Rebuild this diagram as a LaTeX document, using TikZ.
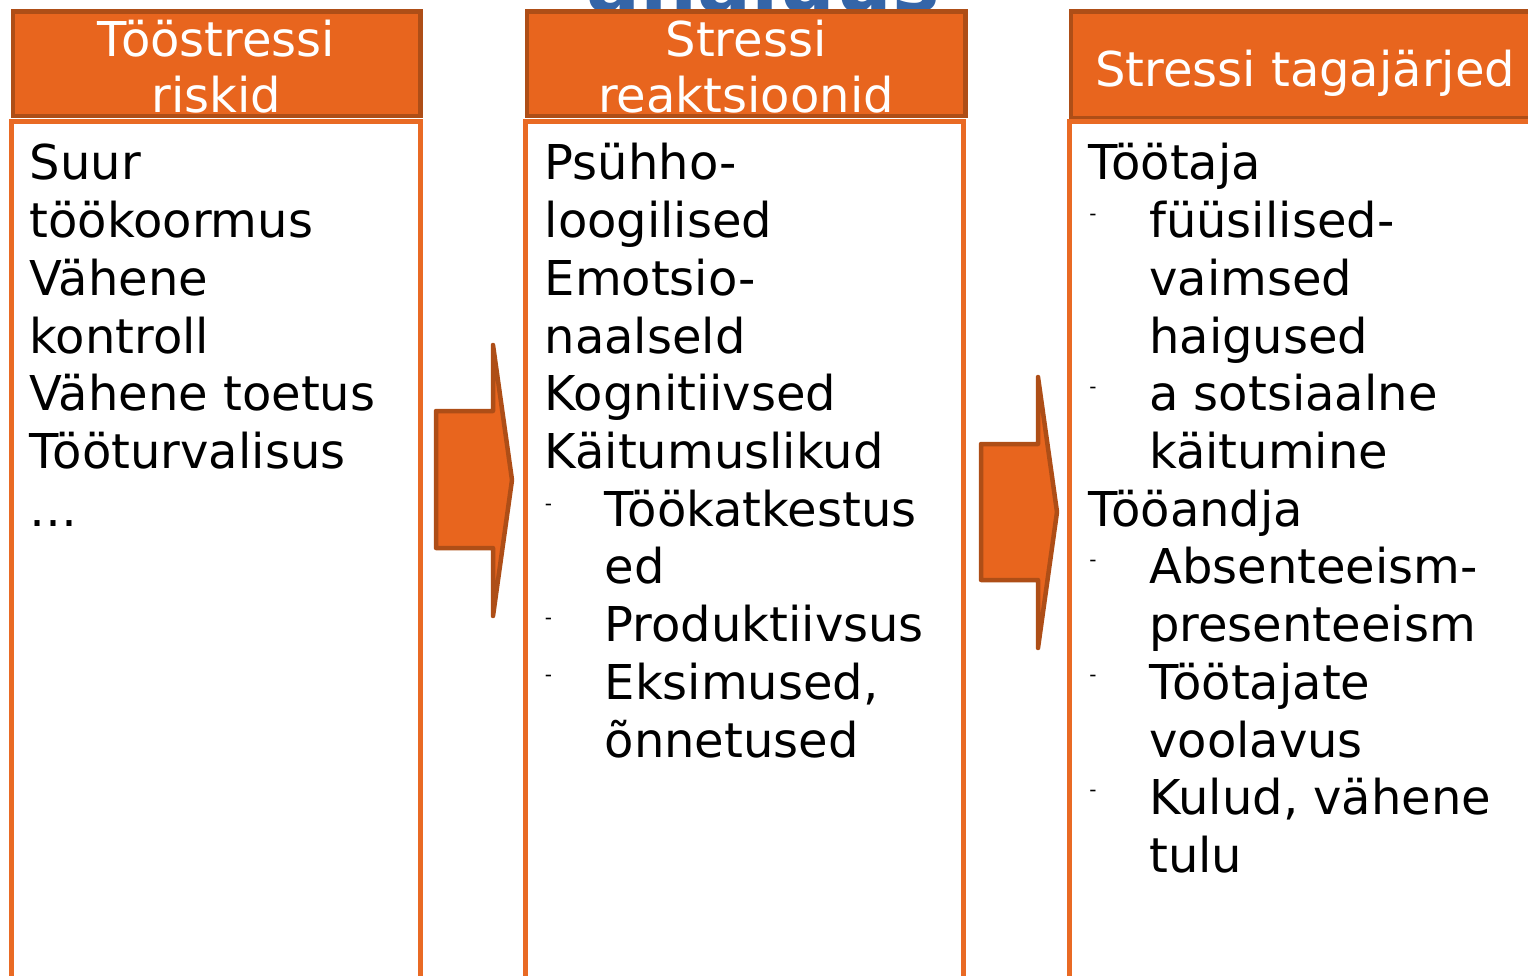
\documentclass[tikz,border=0pt]{standalone}
\usepackage{fontspec}
\setmainfont{DejaVu Sans}
\definecolor{hfill}{HTML}{E8651E}
\definecolor{hdraw}{HTML}{AE4E17}
\definecolor{bdraw}{HTML}{E96A24}
\definecolor{tblue}{HTML}{3465A8}
\tikzset{
  hbox/.style={draw=hdraw, fill=hfill, line width=4.5pt},
  bbox/.style={draw=bdraw, line width=4.5pt},
  htxt/.style={text=white, font=\fontsize{48}{56}\selectfont, inner sep=0pt, anchor=base},
  btxt/.style={font=\fontsize{48}{58}\selectfont, inner sep=0pt, anchor=base west},
  dashtxt/.style={font=\fontsize{20}{24}\selectfont, inner sep=0pt},
  barrow/.style={draw=hdraw, fill=hfill, line width=4.5pt, line join=round},
}
\begin{document}
\begin{tikzpicture}[x=1pt,y=-1pt]
\useasboundingbox (0,0) rectangle (1528,976);
% partly hidden title behind the headers
\begin{scope}
\clip (0,0) rectangle (1528,10);
\node[font=\fontsize{80}{90}\selectfont\bfseries, text=tblue, anchor=base west, inner sep=0pt] (title) at (586,12) {analüüs};
\end{scope}
% headers
\draw[hbox] (13,11.5) rectangle (420.5,116);
\draw[hbox] (527,11.5) rectangle (965.5,116);
\draw[hbox] (1071,11.5) rectangle (1560,118);
% bodies
\draw[bbox] (11.5,121.5) rectangle (420.5,1010);
\draw[bbox] (525.3,121.5) rectangle (963.5,1010);
\draw[bbox] (1069.5,121.5) rectangle (1560,1010);
% header texts
\node[htxt] (h1a) at (216.5,57) {Tööstressi};
\node[htxt] (h1b) at (216.5,113) {riskid};
\node[htxt] (h2a) at (746,57) {Stressi};
\node[htxt] (h2b) at (746,113) {reaktsioonid};
\node[htxt, anchor=base west] (h3a) at (1095,87) {Stressi tagajärjed};
% column 1
\foreach \t [count=\i] in {Suur, töökoormus, Vähene, kontroll, Vähene toetus, Tööturvalisus, …}
  \node[btxt] (ca\i) at (29.5,{180+57.7*(\i-1)}) {\t};
% column 2
\foreach \ind/\t [count=\i] in {0/Psühho-, 0/loogilised, 0/Emotsio-, 0/naalseld, 0/Kognitiivsed, 0/Käitumuslikud, 1/Töökatkestus, 1/ed, 1/Produktiivsus, 1/{Eksimused,}, 1/õnnetused}
  \node[btxt] (cb\i) at ({544.5+60*\ind},{180+57.7*(\i-1)}) {\t};
\foreach \y [count=\i] in {507,621,678}
  \node[dashtxt] (db\i) at (548.5,\y) {-};
% column 3
\foreach \ind/\t [count=\i] in {0/Töötaja, 1/füüsilised-, 1/vaimsed, 1/haigused, 1/a sotsiaalne, 1/käitumine, 0/Tööandja, 1/Absenteeism-, 1/presenteeism, 1/Töötajate, 1/voolavus, 1/{Kulud, vähene}, 1/tulu}
  \node[btxt] (cc\i) at ({1088+61*\ind},{180+57.7*(\i-1)}) {\t};
\foreach \y [count=\i] in {217,390,563,678,793}
  \node[dashtxt] (dc\i) at (1093,\y) {-};
% block arrows
\draw[barrow] (436,411) -- (493,411) -- (493,345) -- (512,480) -- (493,616) -- (493,548) -- (436,548) -- cycle;
\draw[barrow] (981,444) -- (1038,444) -- (1038,377) -- (1057,512) -- (1038,648) -- (1038,580) -- (981,580) -- cycle;
\end{tikzpicture}
\end{document}
